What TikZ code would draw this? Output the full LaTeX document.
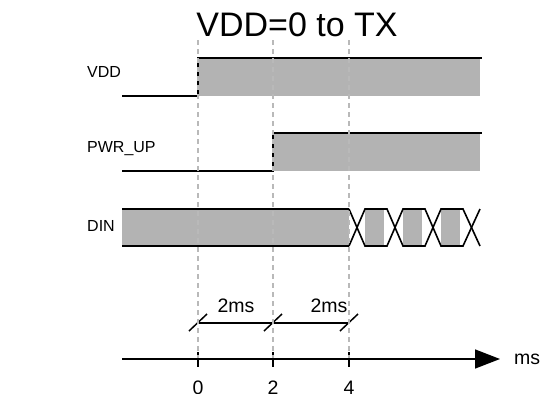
\documentclass[tikz,border=0pt]{standalone}
\usepackage{fontspec}
\setmainfont{Liberation Sans}
\usetikzlibrary{arrows.meta}
\definecolor{sig}{RGB}{179,179,179}
\definecolor{guide}{RGB}{185,185,185}
\begin{document}
\begin{tikzpicture}[x=1pt,y=-1pt,
  thickline/.style={line width=2.8pt,black},
  xline/.style={line width=1.6pt,black,line join=miter},
  guideline/.style={guide,line width=1.2pt,dash pattern=on 5pt off 4pt},
  lbl/.style={font=\fontsize{16}{18}\selectfont,anchor=west,inner sep=0pt},
  axlbl/.style={font=\fontsize{19.5}{21}\selectfont,inner sep=0pt}]
\useasboundingbox (0,0) rectangle (542,394);
% title
\node[font=\fontsize{34}{36}\selectfont,anchor=base,inner sep=0pt] (title) at (297,36) {VDD=0 to TX};
% labels
\node[lbl] (lvdd) at (87,72) {VDD};
\node[lbl] (lpwr) at (87,149) {PWR\_UP};
\node[lbl] (ldin) at (87,226) {DIN};
% VDD
\fill[sig] (199,58) rectangle (480,96);
\draw[thickline] (122,96) -- (198,96) -- (198,58) -- (482,58);
% PWR_UP
\fill[sig] (274,133) rectangle (480,171);
\draw[thickline] (122,171) -- (273,171) -- (273,133) -- (482,133);
% DIN
\fill[sig] (122,209) rectangle (349,246);
\fill[sig] (365,209) rectangle (384,246);
\fill[sig] (403,209) rectangle (422,246);
\fill[sig] (441,209) rectangle (460,246);
\draw[thickline] (122,209) -- (349,209);
\draw[thickline] (122,246) -- (349,246);
\draw[xline] (349,209) -- (365,246) -- (387,246) -- (403,209) -- (425,209) -- (441,246) -- (463,246) -- (480,209);
\draw[xline] (349,246) -- (365,209) -- (387,209) -- (403,246) -- (425,246) -- (441,209) -- (463,209) -- (480,246);
% time axis
\coordinate (a0) at (122,359);
\coordinate (a1) at (500,359);
\draw[line width=1.5pt,-{Triangle[length=25pt,width=19pt]}] (a0) -- (a1);
\node[axlbl,anchor=west] (ms) at (514,359) {ms};
\foreach \x/\t in {198/0,273/2,349/4}{
  \draw[line width=1.5pt] (\x,352) -- (\x,367);
  \node[axlbl,anchor=north] (t\t) at (\x,381) {\t};
}
% dimension
\coordinate (d0) at (198,323);
\coordinate (d1) at (273,323);
\coordinate (d2) at (349,323);
\draw[line width=1.5pt] (d0) -- (d2);
\foreach \x in {198,273,349}{
  \draw[line width=1.5pt] (\x-9,331) -- (\x+9,314);
}
\node[axlbl,anchor=base] (m1) at (236,312) {2ms};
\node[axlbl,anchor=base] (m2) at (329,312) {2ms};
% guide lines
\foreach \x in {198,273,349}{
  \draw[guideline] (\x,40) -- (\x,358);
}
\end{tikzpicture}
\end{document}
